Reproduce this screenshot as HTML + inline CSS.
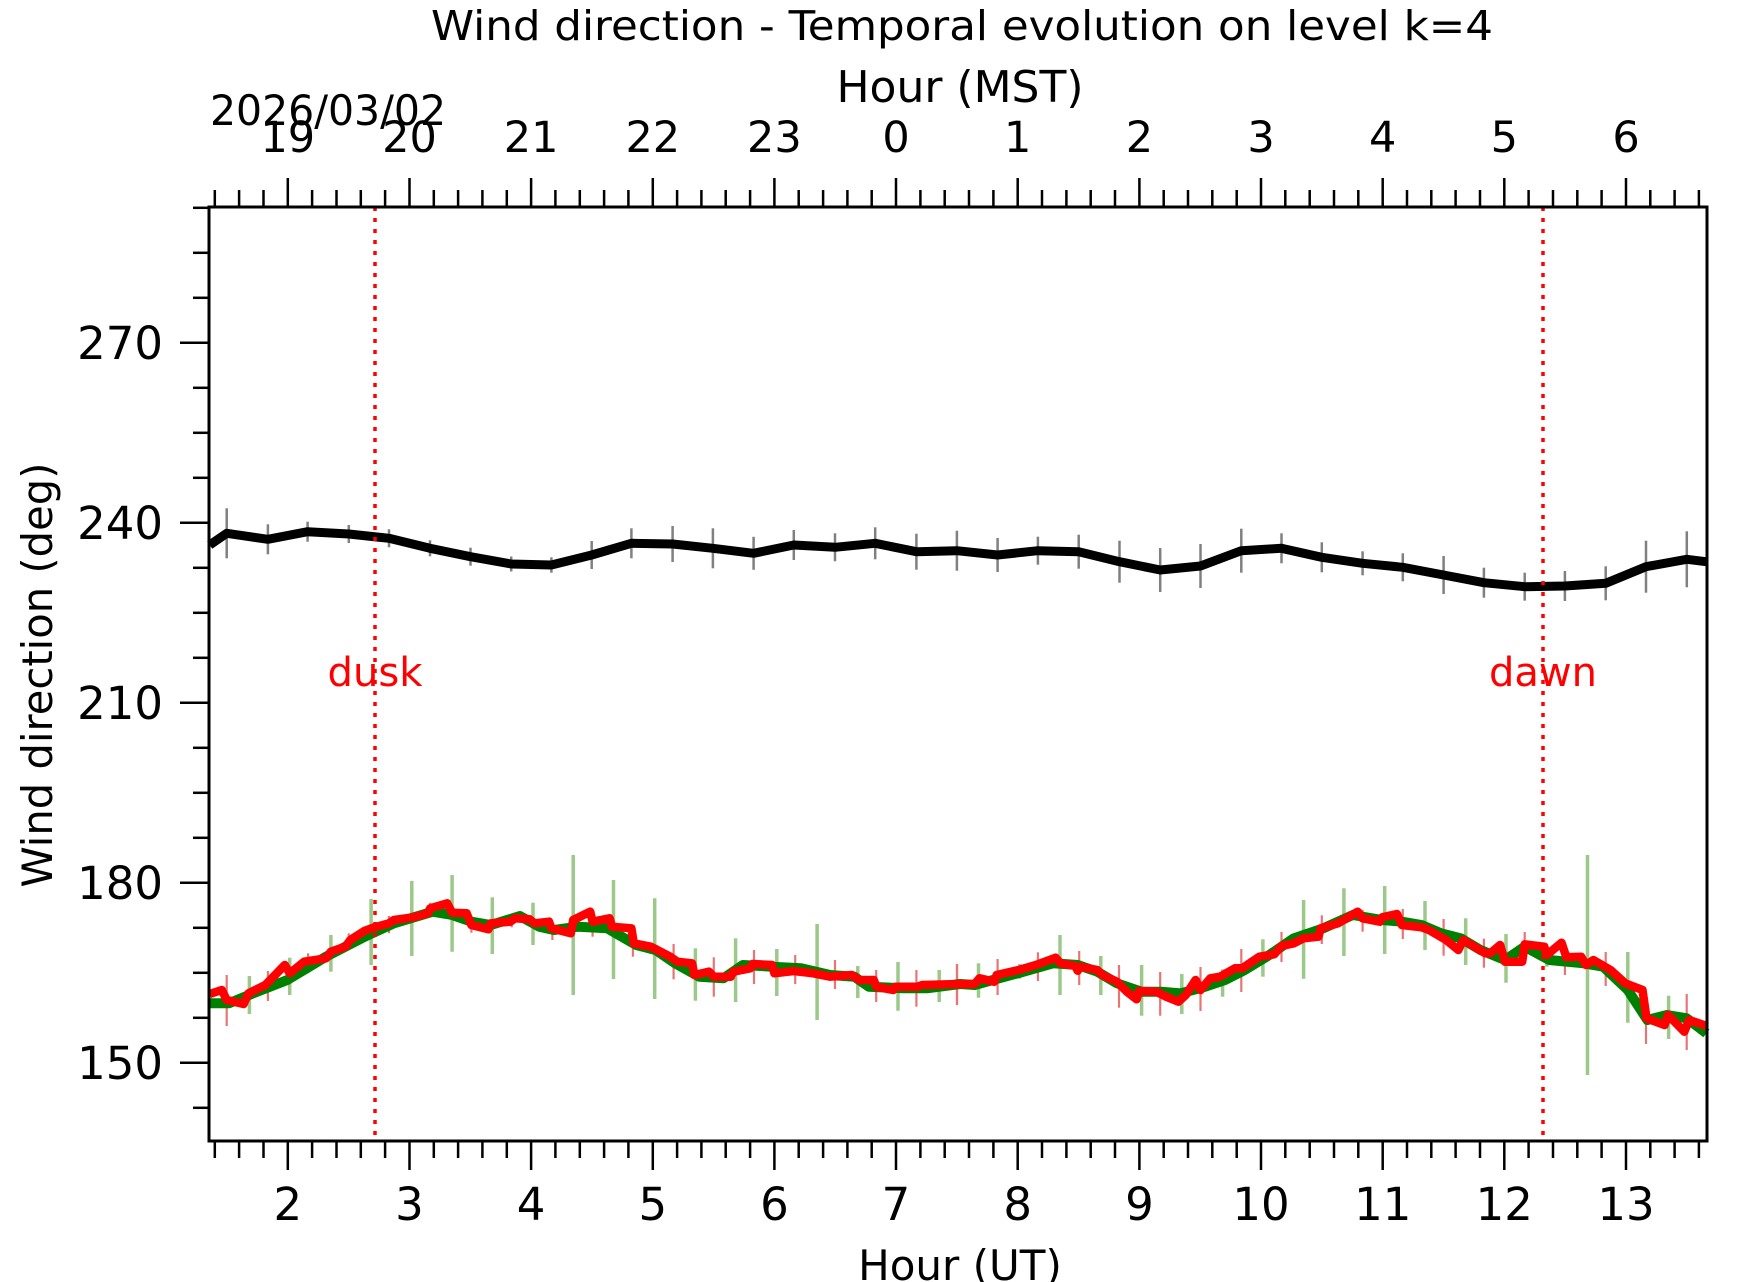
<!DOCTYPE html>
<html><head><meta charset="utf-8">
<style>html,body{margin:0;padding:0;background:#fff;}svg{display:block;}
text{font-family:"DejaVu Sans","Liberation Sans",sans-serif;}</style></head>
<body>
<svg id="s" width="1742" height="1282" viewBox="0 0 1742 1282" xmlns="http://www.w3.org/2000/svg">
<rect width="1742" height="1282" fill="#fff"/>
<g id="g"></g>
<text x="962" y="40" font-size="41" text-anchor="middle" textLength="1062" lengthAdjust="spacingAndGlyphs">Wind direction - Temporal evolution on level k=4</text>
<text x="960" y="102" font-size="44" text-anchor="middle">Hour (MST)</text>
<text x="210" y="125" font-size="42" textLength="236" lengthAdjust="spacingAndGlyphs">2026/03/02</text>
<text x="960" y="1280" font-size="42" text-anchor="middle">Hour (UT)</text>
<text transform="translate(52,675) rotate(-90)" font-size="42" text-anchor="middle" textLength="425" lengthAdjust="spacingAndGlyphs">Wind direction (deg)</text>
<text x="375" y="686" font-size="40" fill="#ff0000" text-anchor="middle" textLength="95" lengthAdjust="spacingAndGlyphs">dusk</text>
<text x="1543" y="686" font-size="40" fill="#ff0000" text-anchor="middle">dawn</text>
</svg>
<script>
(function(){
var g=document.getElementById("g"),h="";
function X(t){return 287.8+(t-2)*121.65;}
function Y(v){return 342.8+(270-v)*6;}
var L=209,R=1707,T=207,B=1141;
var bk=[[226.7,533.3,25],[267.9,539.3,15],[307.6,531.7,10],[348.8,534,9],[389,538.3,9],[430,548.3,8],[470.5,556.7,9],[511.2,564,7.5],[551.4,565,7.7],[591.7,555,14],[631.4,543.3,15],[672.6,544,18],[712.9,548.3,20],[753.6,553.3,16.5],[793.8,545,15],[835,547.3,14],[875.2,543.3,16],[916.4,551.7,18],[956.9,550.7,20],[997.6,555,17],[1037.9,550.7,14],[1078.7,551.7,17],[1119.5,561.7,21],[1160.2,570,22],[1200.5,566,22],[1241.3,550.7,22],[1281.5,548.3,15],[1321.8,557.3,15],[1362.6,563.3,12],[1402.8,567.3,14],[1443.6,575,19],[1483.9,582.7,15],[1524.7,586.7,14],[1564.9,586,15],[1605.7,583.3,17],[1646,566.7,26],[1686.8,559.3,28]];
bk.forEach(function(p){h+='<line x1="'+p[0]+'" x2="'+p[0]+'" y1="'+(p[1]-p[2])+'" y2="'+(p[1]+p[2])+'" stroke="#808080" stroke-width="2.5"/>';});
var bl=[[209.7,545],[226.7,533.3],[267.9,539.3],[307.6,531.7],[348.8,534],[389,538.3],[430,548.3],[470.5,556.7],[511.2,564],[551.4,565],[591.7,555],[631.4,543.3],[672.6,544],[712.9,548.3],[753.6,553.3],[793.8,545],[835,547.3],[875.2,543.3],[916.4,551.7],[956.9,550.7],[997.6,555],[1037.9,550.7],[1078.7,551.7],[1119.5,561.7],[1160.2,570],[1200.5,566],[1241.3,550.7],[1281.5,548.3],[1321.8,557.3],[1362.6,563.3],[1402.8,567.3],[1443.6,575],[1483.9,582.7],[1524.7,586.7],[1564.9,586],[1605.7,583.3],[1646,566.7],[1686.8,559.3],[1706,561.7]];
function pl(a,c,w){return '<polyline fill="none" stroke="'+c+'" stroke-width="'+w+'" stroke-linejoin="round" points="'+a.map(function(p){return p[0].toFixed(1)+','+p[1].toFixed(1);}).join(' ')+'"/>';}
h+=pl(bl,"#000",9);
function c8(a){return a.map(function(p){return [200+p[0]/2.063,840+p[1]/3];});}
function c9(a){return a.map(function(p){return [950+p[0]/2.036,840+p[1]/3];});}
function eb(a,c,w,f){a.forEach(function(p){var x=f([[p[0],0]])[0][0],y1=840+p[1]/3,y2=Math.min(840+p[2]/3,1075);h+='<line x1="'+x.toFixed(1)+'" x2="'+x.toFixed(1)+'" y1="'+y1.toFixed(1)+'" y2="'+y2.toFixed(1)+'" stroke="'+c+'" stroke-width="'+w+'"/>';});}
var ge8=[[102,408,522],[185,353,465],[270,285,395],[353,177,375],[437,123,348],[520,105,335],[603,172,342],[687,188,315],[770,45,465],[853,120,417],[938,175,477],[1022,325,482],[1105,295,486],[1190,327,468],[1273,252,540],[1357,378,474],[1440,366,512],[1525,390,486]];
var ge9=[[58,370,473],[142,372,416],[224,285,465],[307,348,465],[390,375,527],[472,402,522],[555,388,470],[637,298,410],[720,180,416],[802,145,348],[885,138,342],[967,183,330],[1050,235,375],[1132,282,428],[1215,325,380],[1298,45,800],[1380,336,548],[1463,467,597]];
var re8=[[55,405,558],[140,393,483],[223,340,400],[307,280,330],[390,228,280],[475,188,225],[560,240,278],[643,230,262],[727,250,300],[810,240,290],[893,290,350],[977,312,418],[1060,352,470],[1143,330,432],[1228,345,432],[1310,360,447],[1395,390,486],[1478,390,500],[1562,372,494]];
var re9=[[14,372,495],[97,357,465],[179,337,423],[263,333,435],[344,375,503],[428,396,527],[510,381,513],[593,327,456],[675,276,366],[757,226,312],[840,210,275],[922,207,297],[1005,237,347],[1087,296,383],[1170,276,358],[1252,324,405],[1335,336,438],[1417,500,612],[1500,462,630]];
eb(ge8,"#9cc88a",3.5,c8);eb(ge9,"#9cc88a",3.5,c9);
eb(re8,"#e87575",2.2,c8);eb(re9,"#e87575",2.2,c9);
var g8=[[20,490],[60,490],[110,460],[180,420],[260,350],[340,290],[400,250],[480,215],[520,225],[560,245],[600,255],[660,228],[700,260],[730,270],[780,260],[840,265],[870,290],[900,315],[940,330],[980,370],[1030,410],[1080,415],[1120,375],[1180,380],[1240,385],[1300,405],[1350,410],[1380,440],[1450,445],[1500,445],[1568,432]];
var g9=[[0,440],[50,435],[100,415],[150,395],[210,370],[260,375],[300,395],[340,430],[390,455],[430,455],[470,460],[520,440],[560,420],[600,390],[650,345],[700,295],[760,265],[820,225],[880,240],[920,245],[960,255],[1000,280],[1040,295],[1080,330],[1130,360],[1170,320],[1220,360],[1290,370],[1330,380],[1380,450],[1420,540],[1460,525],[1500,535],[1540,580]];
h+=pl(c8(g8).concat(c9(g9).slice(1)),"#008000",10);
var r8=[[20,462],[45,450],[55,480],[90,492],[100,460],[135,435],[175,375],[185,400],[215,365],[260,355],[270,335],[300,320],[310,300],[340,272],[360,262],[390,250],[400,240],[440,232],[470,220],[475,205],[510,190],[520,218],[550,220],[560,255],[595,268],[600,250],[640,245],[650,235],[680,238],[690,250],[720,245],[725,265],[765,280],[770,240],[805,215],[810,245],[845,235],[850,260],[890,265],[895,310],[930,320],[970,350],[985,365],[1015,370],[1020,405],[1050,395],[1060,410],[1095,410],[1100,395],[1135,385],[1140,372],[1180,375],[1185,400],[1225,393],[1265,400],[1300,410],[1345,405],[1360,420],[1390,420],[1395,440],[1430,450],[1435,440],[1480,440],[1490,435],[1568,432]];
var r9=[[0,432],[50,432],[60,415],[90,425],[95,405],[140,390],[175,375],[215,353],[225,370],[255,378],[260,392],[265,380],[300,390],[310,405],[340,425],[360,455],[380,478],[385,453],[420,455],[440,470],[465,485],[480,465],[500,420],[510,450],[530,415],[550,410],[580,385],[595,385],[630,350],[660,343],[675,318],[700,310],[720,295],[750,290],[755,265],[790,250],[830,215],[840,235],[875,245],[880,232],[910,222],[920,255],[960,262],[975,270],[1010,300],[1035,330],[1045,300],[1090,340],[1100,340],[1120,315],[1130,365],[1165,365],[1170,313],[1210,320],[1215,345],[1245,308],[1255,352],[1285,350],[1295,375],[1310,360],[1345,390],[1375,430],[1410,450],[1418,535],[1455,555],[1462,525],[1495,575],[1505,540],[1535,555],[1540,560]];
h+=pl(c8(r8).concat(c9(r9).slice(1)),"#ff0000",8.5);
[375,1543].forEach(function(x){h+='<line x1="'+x+'" x2="'+x+'" y1="'+T+'" y2="'+B+'" stroke="#ff0000" stroke-width="3.5" stroke-dasharray="4,7"/>';});
h+='<rect x="'+L+'" y="'+T+'" width="'+(R-L)+'" height="'+(B-T)+'" fill="none" stroke="#000" stroke-width="3"/>';
for(var i=0;i<=80;i++){var t=1+i*0.2;var x=X(t);if(x<L-0.5||x>R+0.5)continue;var maj=Math.abs(t-Math.round(t))<1e-6;var len=maj?29:17;
h+='<line x1="'+x.toFixed(1)+'" x2="'+x.toFixed(1)+'" y1="'+B+'" y2="'+(B+len)+'" stroke="#000" stroke-width="2.5"/>';
h+='<line x1="'+x.toFixed(1)+'" x2="'+x.toFixed(1)+'" y1="'+T+'" y2="'+(T-len)+'" stroke="#000" stroke-width="2.5"/>';
if(maj){var u=Math.round(t);h+='<text x="'+x.toFixed(1)+'" y="1220" font-size="45" text-anchor="middle">'+u+'</text>';
var m=(u-7+24)%24;h+='<text x="'+x.toFixed(1)+'" y="152" font-size="43" text-anchor="middle">'+m+'</text>';}}
for(var v=142.5;v<=293;v+=7.5){var y=Y(v);var maj=(v%30===0);var len=maj?29:16;
h+='<line x1="'+(L-len)+'" x2="'+L+'" y1="'+y.toFixed(1)+'" y2="'+y.toFixed(1)+'" stroke="#000" stroke-width="2.5"/>';
if(maj)h+='<text x="163" y="'+(y+16).toFixed(1)+'" font-size="45" text-anchor="end">'+v+'</text>';}
g.innerHTML=h;
})();
</script>
</body></html>
